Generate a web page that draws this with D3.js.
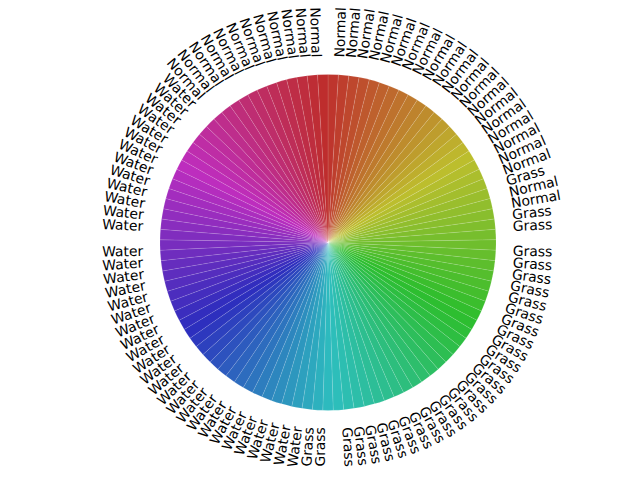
<!DOCTYPE html>
<html>
<head>
<meta charset="utf-8">
<script src="https://cdn.jsdelivr.net/npm/d3@7"></script>
<style>
  html, body { margin: 0; padding: 0; background: #fff; }
  svg { display: block; }
</style>
</head>
<body>
<svg id="chart" width="640" height="480"></svg>
<script>
// ---- data (clockwise from 12 o'clock) ----
const runTypes  = ["Normal", "Grass", "Normal", "Grass", "Water", "Normal"];
const runCounts = [20, 1, 2, 29, 37, 12];
const labels = [];
runTypes.forEach((t, i) => { for (let j = 0; j < runCounts[i]; j++) labels.push(t); });
const values = labels.map(() => 1);   // equal-sized wedges

// ---- layout ----
const cx = 328, cy = 242.4, radius = 168, labelDist = 1.1;
const fontSize = 13.89;

const svg = d3.select("#chart");
const g = svg.append("g").attr("transform", `translate(${cx},${cy})`);

const pie = d3.pie().sort(null).value(d => d)
  .startAngle(0).endAngle(2 * Math.PI);
const arcs = pie(values);
const arc = d3.arc().innerRadius(0).outerRadius(radius);

const n = values.length;
const color = i => d3.hsl(((i / n) + 0.01) * 360 % 360, 0.62, 0.46).toString();

g.selectAll("path.wedge").data(arcs).enter().append("path")
  .attr("class", "wedge")
  .attr("d", arc)
  .attr("fill", (d, i) => color(i))
  .attr("stroke", "rgba(255,255,255,0.22)")
  .attr("stroke-width", 0.5);

// ---- labels, matplotlib-style rotatelabels ----
const R = radius * labelDist;
const lg = svg.append("g");
arcs.forEach((d, i) => {
  const a = (d.startAngle + d.endAngle) / 2;        // clockwise from top
  const thetam = Math.PI / 2 - a;                     // math angle (CCW from +x)
  const xt = Math.cos(thetam), yt = Math.sin(thetam);
  const right = xt > 1e-9;                            // ha left
  const up = yt > 1e-9;                               // va bottom
  const rot = thetam * 180 / Math.PI + (right ? 0 : 180);
  const ax = cx + R * xt, ay = cy - R * yt;

  const t = lg.append("text")
    .attr("font-family", "DejaVu Sans, sans-serif")
    .attr("font-size", fontSize)
    .attr("fill", "#000")
    .attr("text-anchor", "middle")
    .text(labels[i]);
  const w = t.node().getComputedTextLength();
  const h = fontSize * 0.968, desc = fontSize * 0.208;
  const rr = rot * Math.PI / 180;
  const bw = w * Math.abs(Math.cos(rr)) + h * Math.abs(Math.sin(rr));
  const bh = w * Math.abs(Math.sin(rr)) + h * Math.abs(Math.cos(rr));
  const bx = right ? ax + bw / 2 : ax - bw / 2;
  const by = up ? ay - bh / 2 : ay + bh / 2;
  const baseOff = h / 2 - desc;
  t.attr("x", 0).attr("y", baseOff)
   .attr("transform", `translate(${bx},${by}) rotate(${-rot})`);
});
</script>
</body>
</html>
